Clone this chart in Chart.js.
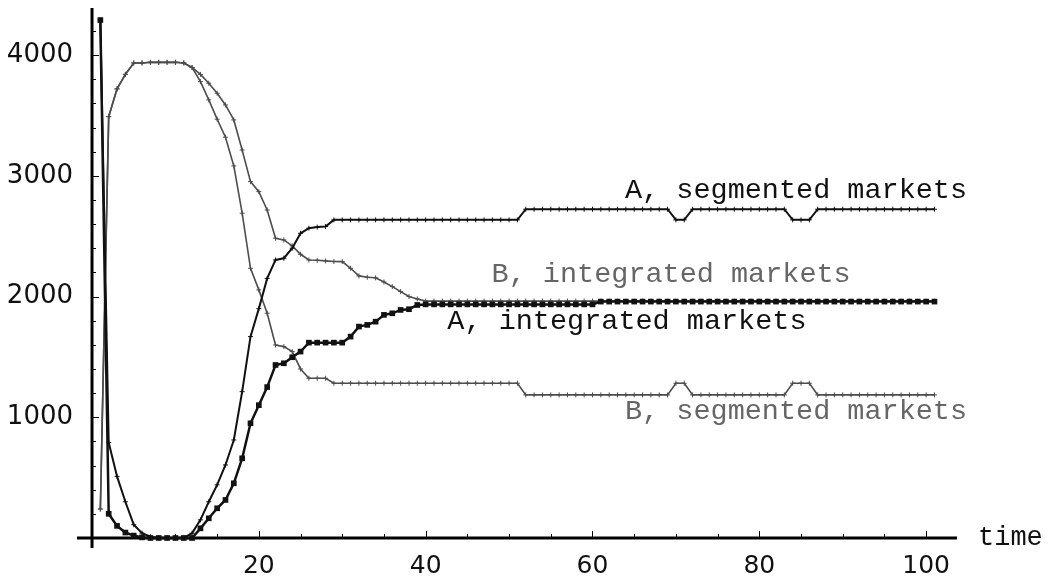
<!DOCTYPE html>
<html>
<head>
<meta charset="utf-8">
<script src="https://cdn.jsdelivr.net/npm/chart.js@4.4.1/dist/chart.umd.min.js"></script>
<style>
  html, body { margin: 0; padding: 0; background: #fff; }
  canvas { display: block; }
</style>
</head>
<body>
<canvas id="plot" width="1048" height="580"></canvas>
<script>
// time steps 1..101
const times = Array.from({ length: 101 }, (_, i) => i + 1);

const aSegmented = [
  4290, 790, 510, 300, 110, 40, 10, 0, 0, 0,
  0, 40, 150, 300, 440, 605, 812, 1212, 1668, 1900,
  2150, 2303, 2317, 2400, 2524, 2566, 2575, 2580, 2635, 2635,
  2635, 2635, 2635, 2635, 2635, 2635, 2635, 2635, 2635, 2635,
  2635, 2635, 2635, 2635, 2635, 2635, 2635, 2635, 2635, 2635,
  2635, 2723, 2723, 2723, 2723, 2723, 2723, 2723, 2723, 2723,
  2723, 2723, 2723, 2723, 2723, 2723, 2723, 2723, 2723, 2635,
  2635, 2723, 2723, 2723, 2723, 2723, 2723, 2723, 2723, 2723,
  2723, 2723, 2723, 2635, 2635, 2635, 2723, 2723, 2723, 2723,
  2723, 2723, 2723, 2723, 2723, 2723, 2723, 2723, 2723, 2723,
  2723
];

const bSegmented = [
  240, 3490, 3720, 3840, 3935, 3935, 3940, 3940, 3940, 3940,
  3935, 3897, 3780, 3629, 3469, 3320, 3082, 2690, 2234, 2055,
  1862, 1599, 1585, 1544, 1400, 1323, 1323, 1323, 1282, 1282,
  1282, 1282, 1282, 1282, 1282, 1282, 1282, 1282, 1282, 1282,
  1282, 1282, 1282, 1282, 1282, 1282, 1282, 1282, 1282, 1282,
  1282, 1185, 1185, 1185, 1185, 1185, 1185, 1185, 1185, 1185,
  1185, 1185, 1185, 1185, 1185, 1185, 1185, 1185, 1185, 1282,
  1282, 1185, 1185, 1185, 1185, 1185, 1185, 1185, 1185, 1185,
  1185, 1185, 1185, 1282, 1282, 1282, 1185, 1185, 1185, 1185,
  1185, 1185, 1185, 1185, 1185, 1185, 1185, 1185, 1185, 1185,
  1185
];

const aIntegrated = [
  4290, 200, 100, 45, 20, 5, 0, 0, 0, 0,
  0, 0, 80, 163, 246, 315, 453, 660, 950, 1100,
  1250, 1433, 1447, 1497, 1544, 1618, 1618, 1618, 1618, 1618,
  1668, 1751, 1765, 1792, 1848, 1861, 1889, 1895, 1930, 1935,
  1935, 1935, 1935, 1935, 1935, 1935, 1935, 1935, 1935, 1935,
  1935, 1935, 1935, 1935, 1935, 1935, 1935, 1935, 1935, 1935,
  1958, 1958, 1958, 1958, 1958, 1958, 1958, 1958, 1958, 1958,
  1958, 1958, 1958, 1958, 1958, 1958, 1958, 1958, 1958, 1958,
  1958, 1958, 1958, 1958, 1958, 1958, 1958, 1958, 1958, 1958,
  1958, 1958, 1958, 1958, 1958, 1958, 1958, 1958, 1958, 1958,
  1958
];

const bIntegrated = [
  240, 3490, 3720, 3840, 3935, 3935, 3940, 3940, 3940, 3940,
  3935, 3897, 3840, 3767, 3684, 3587, 3463, 3214, 2952, 2869,
  2717, 2483, 2469, 2420, 2350, 2303, 2300, 2295, 2290, 2289,
  2234, 2171, 2160, 2155, 2120, 2082, 2041, 2000, 1980, 1962,
  1962, 1962, 1962, 1962, 1962, 1962, 1962, 1962, 1962, 1962,
  1962, 1962, 1962, 1962, 1962, 1962, 1962, 1962, 1962, 1962,
  1962, 1962, 1962, 1962, 1962, 1962, 1962, 1962, 1962, 1962,
  1962, 1962, 1962, 1962, 1962, 1962, 1962, 1962, 1962, 1962,
  1962, 1962, 1962, 1962, 1962, 1962, 1962, 1962, 1962, 1962,
  1962, 1962, 1962, 1962, 1962, 1962, 1962, 1962, 1962, 1962,
  1962
];

const xTicks = [20, 40, 60, 80, 100];
const yTicks = [1000, 2000, 3000, 4000];
const xAxisTitle = 'time';

// curve labels, anchored in data units (left edge, vertical middle)
const curveLabels = [
  { text: 'A, segmented markets', t: 63.9, v: 2880, color: '#111' },
  { text: 'B, integrated markets', t: 47.9, v: 2180, color: '#666' },
  { text: 'A, integrated markets', t: 42.6, v: 1790, color: '#111' },
  { text: 'B, segmented markets', t: 63.9, v: 1050, color: '#666' }
];

const BLACK = '#111';
const GREY = '#4d4d4d';

// Mathematica-style axes crossing at the origin, with tick marks
const axesPlugin = {
  id: 'originAxes',
  beforeDatasetsDraw(chart) {
    const { ctx, scales: { x, y } } = chart;
    const x0 = x.getPixelForValue(0);
    const y0 = y.getPixelForValue(0);
    ctx.save();
    ctx.strokeStyle = '#000';
    ctx.lineWidth = 3;
    ctx.beginPath();
    ctx.moveTo(x.left, y0);
    ctx.lineTo(x.right, y0);
    ctx.moveTo(x0, y.top);
    ctx.lineTo(x0, y.bottom);
    ctx.stroke();

    ctx.lineWidth = 1;
    ctx.beginPath();
    for (let t = 5; t <= 100; t += 5) {
      const px = Math.round(x.getPixelForValue(t)) + 0.5;
      const len = xTicks.includes(t) ? 7 : 4;
      ctx.moveTo(px, y0);
      ctx.lineTo(px, y0 - len);
    }
    for (let v = 200; v <= 4200; v += 200) {
      const py = Math.round(y.getPixelForValue(v)) + 0.5;
      const len = yTicks.includes(v) ? 7 : 4;
      ctx.moveTo(x0, py);
      ctx.lineTo(x0 + len, py);
    }
    ctx.stroke();
    ctx.restore();
  },
  afterDatasetsDraw(chart) {
    const { ctx, scales: { x, y } } = chart;
    const x0 = x.getPixelForValue(0);
    const y0 = y.getPixelForValue(0);
    ctx.save();
    ctx.fillStyle = '#111';

    ctx.font = '25px "DejaVu Sans"';
    ctx.textAlign = 'center';
    ctx.textBaseline = 'top';
    xTicks.forEach(t => ctx.fillText(String(t), x.getPixelForValue(t), y0 + 16));

    ctx.font = '26px "DejaVu Sans"';
    ctx.textAlign = 'right';
    ctx.textBaseline = 'middle';
    yTicks.forEach(v => ctx.fillText(String(v), x0 - 19, y.getPixelForValue(v)));

    ctx.font = '27px "Liberation Mono"';
    ctx.textAlign = 'left';
    ctx.textBaseline = 'middle';
    ctx.fillText(xAxisTitle, x.right + 21, y0);

    ctx.font = '28.5px "Liberation Mono"';
    curveLabels.forEach(l => {
      ctx.fillStyle = l.color;
      ctx.fillText(l.text, x.getPixelForValue(l.t), y.getPixelForValue(l.v));
    });
    ctx.restore();
  }
};

const ctx = document.getElementById('plot').getContext('2d');
const chart = new Chart(ctx, {
  type: 'line',
  data: {
    labels: times,
    datasets: [
      {
        label: 'A, integrated markets',
        data: aIntegrated,
        borderColor: BLACK,
        backgroundColor: BLACK,
        borderWidth: 2.5,
        pointStyle: 'rect',
        pointRadius: 4,
        pointBorderWidth: 0,
        tension: 0
      },
      {
        label: 'A, segmented markets',
        data: aSegmented,
        borderColor: BLACK,
        backgroundColor: BLACK,
        borderWidth: 2,
        pointStyle: 'cross',
        pointRadius: 2.5,
        pointBorderWidth: 1,
        tension: 0
      },
      {
        label: 'B, integrated markets',
        data: bIntegrated,
        borderColor: GREY,
        backgroundColor: GREY,
        borderWidth: 1.6,
        pointStyle: 'cross',
        pointRadius: 2.5,
        pointBorderWidth: 1,
        tension: 0
      },
      {
        label: 'B, segmented markets',
        data: bSegmented,
        borderColor: GREY,
        backgroundColor: GREY,
        borderWidth: 1.6,
        pointStyle: 'cross',
        pointRadius: 2.5,
        pointBorderWidth: 1,
        tension: 0
      }
    ]
  },
  options: {
    responsive: false,
    animation: false,
    layout: { padding: { left: 77, right: 91, top: 8, bottom: 32 } },
    plugins: {
      legend: { display: false },
      tooltip: { enabled: false }
    },
    scales: {
      x: { type: 'linear', min: -1.8, max: 103.7, display: false },
      y: { type: 'linear', min: -83, max: 4390, display: false }
    }
  },
  plugins: [axesPlugin]
});
</script>
</body>
</html>
